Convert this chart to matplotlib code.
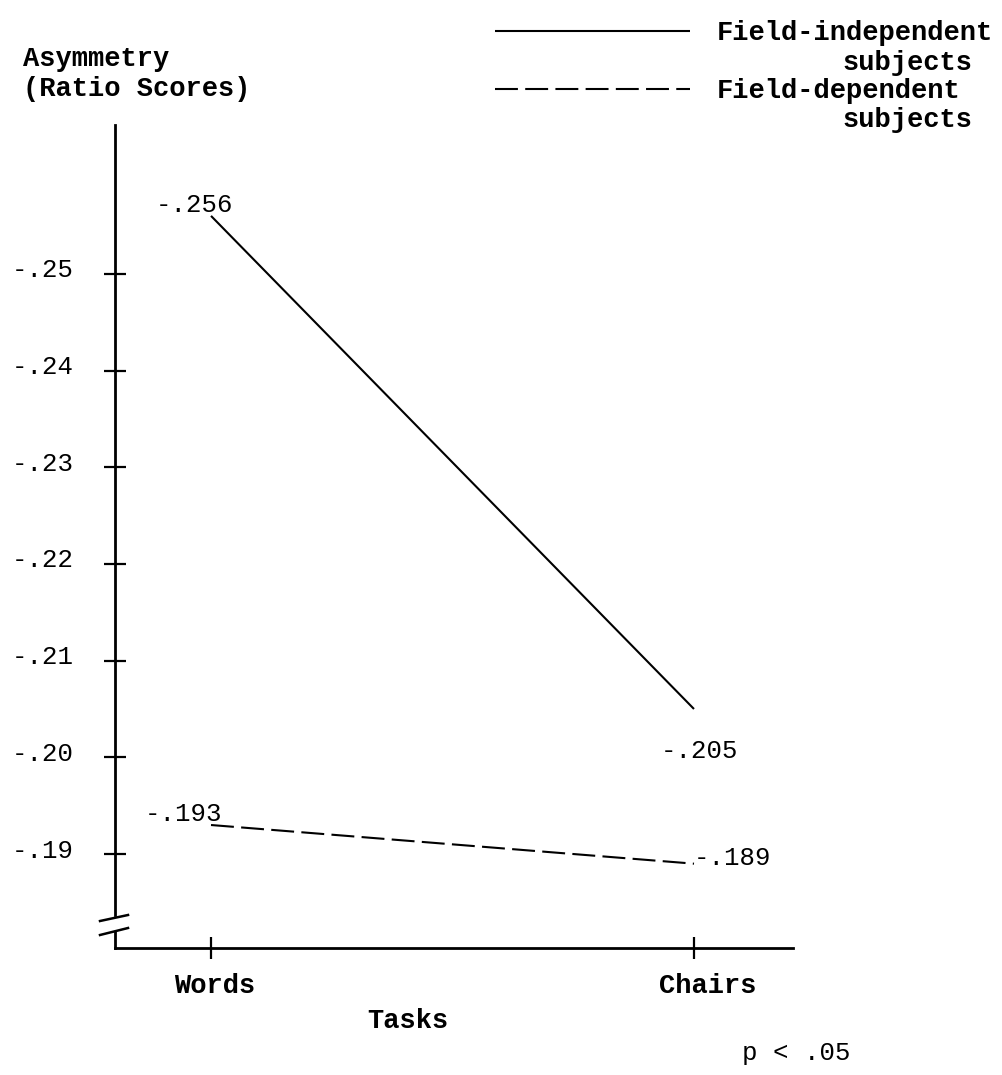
import matplotlib
matplotlib.use("Agg")
import matplotlib.pyplot as plt
from matplotlib.transforms import ScaledTranslation

# ---- data ----
tasks = ["Words", "Chairs"]
field_independent = [-0.256, -0.205]
field_dependent = [-0.193, -0.189]
fi_labels = ["-.256", "-.205"]
fd_labels = ["-.193", "-.189"]
ytick_values = [-0.25, -0.24, -0.23, -0.22, -0.21, -0.20, -0.19]
ytick_labels = ["-.25", "-.24", "-.23", "-.22", "-.21", "-.20", "-.19"]
series_names = ["Field-independent", "Field-dependent"]

W, H = 1003, 1075
DPI = 100
MONO = ["Liberation Mono", "DejaVu Sans Mono"]
plt.rcParams["font.family"] = MONO

fig = plt.figure(figsize=(W / DPI, H / DPI), dpi=DPI)
fig.patch.set_facecolor("white")

# axes spanning pixel box x 115..793, y 125..948
ax = fig.add_axes([115 / W, 1 - 948 / H, 678 / W, 823 / H])
ax.set_facecolor("white")
x = list(range(len(tasks)))
ax.set_xlim(-0.1988, 1.205)
ax.set_ylim(-0.18028, -0.2654)  # inverted: more negative upwards

ln1, = ax.plot(x, field_independent, color="black", lw=1.5, solid_capstyle="butt",
               label=series_names[0], clip_on=False)
ln2, = ax.plot(x, field_dependent, color="black", lw=1.5, linestyle=(0, (11, 3.5)),
               label=series_names[1], clip_on=False)

# value annotations
fs_num = 18.5
fs_word = 19.5
offs_fi = [(-12, 8), (4, -30)]
offs_fd = [(-20, 8), (28, 4)]
for xi, v, lab, off in zip(x, field_independent, fi_labels, offs_fi):
    ax.annotate(lab, (xi, v), xytext=off, textcoords="offset points",
                ha="center", va="center", fontsize=fs_num)
for xi, v, lab, off in zip(x, field_dependent, fd_labels, offs_fd):
    ax.annotate(lab, (xi, v), xytext=off, textcoords="offset points",
                ha="center", va="center", fontsize=fs_num)

# spines
for s in ["top", "right"]:
    ax.spines[s].set_visible(False)
ax.spines["left"].set_linewidth(2)
ax.spines["bottom"].set_linewidth(2)
ax.spines["left"].set_bounds(-0.2654, -0.18369)

# axis break: stub + two slanted marks
ax.plot([0, 0], [0, 0.0194], transform=ax.transAxes, color="black", lw=2, clip_on=False)
ax.plot([-0.0221, 0.0192], [0.0328, 0.0401], transform=ax.transAxes, color="black", lw=1.8, clip_on=False)
ax.plot([-0.0221, 0.0192], [0.0158, 0.0243], transform=ax.transAxes, color="black", lw=1.8, clip_on=False)

# ticks
ax.set_yticks(ytick_values)
ax.set_yticklabels(ytick_labels, fontsize=fs_num)
ax.set_xticks(x)
ax.set_xticklabels(tasks, fontsize=fs_word, fontweight="bold")
ax.tick_params(axis="y", direction="inout", length=16, width=1.6, pad=22)
ax.tick_params(axis="x", direction="inout", length=16, width=1.6, pad=10)
for lab in ax.get_yticklabels():
    lab.set_transform(lab.get_transform() + ScaledTranslation(0, 6 / DPI, fig.dpi_scale_trans))
xshift = [4, 14]
for lab, dx in zip(ax.get_xticklabels(), xshift):
    lab.set_transform(lab.get_transform() + ScaledTranslation(dx / DPI, 0, fig.dpi_scale_trans))

ax.set_xlabel("Tasks", fontsize=fs_word, fontweight="bold")
ax.xaxis.set_label_coords((408 - 115) / 678, -(1008 - 948) / 823)
ax.xaxis.label.set_va("top")

# y axis title
fig.text(23 / W, 1 - 74 / H, "Asymmetry\n(Ratio Scores)", ha="left", va="center",
         fontsize=fs_word, fontweight="bold", linespacing=1.25)

# legend
leg = ax.legend(handles=[ln1, ln2], loc="upper left",
                bbox_to_anchor=(495 / W, 1 - 20 / H), bbox_transform=fig.transFigure,
                frameon=False, borderpad=0, borderaxespad=0, handlelength=7.2,
                handletextpad=1.0, labelspacing=1.2,
                prop={"family": MONO, "size": fs_word, "weight": "bold"})
# second line of each legend label
fig.text(842 / W, 1 - 63 / H, "subjects", ha="left", va="center", fontsize=fs_word, fontweight="bold")
fig.text(842 / W, 1 - 120 / H, "subjects", ha="left", va="center", fontsize=fs_word, fontweight="bold")

# significance note
fig.text(742 / W, 1 - 1053 / H, "p < .05", ha="left", va="center", fontsize=fs_num)

fig.savefig("out.png", dpi=DPI, facecolor="white")
